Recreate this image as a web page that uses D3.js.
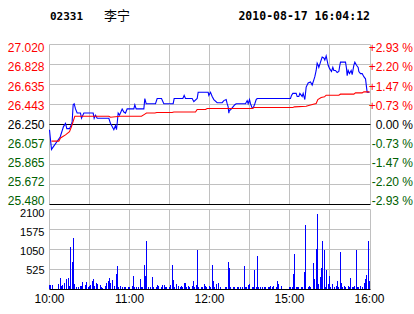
<!DOCTYPE html>
<html>
<head>
<meta charset="utf-8">
<script src="https://cdn.jsdelivr.net/npm/d3@7"></script>
<style>
  body { margin: 0; background: #fff; }
  svg { display: block; }
  text { font-family: "Liberation Sans", Arial, sans-serif; }
</style>
</head>
<body>
<svg id="chart" width="414" height="314"></svg>
<script>
// header
const stockCode = '02331';
const stockName = '李宁';
const stamp = '2010-08-17 16:04:12';

// axis labels
const prevClose = 26.25;
const priceTicks = ['27.020', '26.828', '26.635', '26.443', '26.250', '26.057', '25.865', '25.672', '25.480'];
const pctTicks = ['+2.93 %', '+2.20 %', '+1.47 %', '+0.73 %', '0.00 %', '-0.73 %', '-1.47 %', '-2.20 %', '-2.93 %'];
const volTicks = [2100, 1575, 1050, 525];
const timeLabels = ['10:00', '11:00', '12:00', '15:00', '16:00'];
const timeLabelMinutes = [0, 60, 120, 180, 240];

// price line (minute index from 10:00, price)
const priceTimes = [0, 1.5, 8, 10.5, 12, 13, 15, 16.5, 17, 17.75, 18.5, 19.5, 20.75, 23.25, 24, 25.75,
  32.75, 33.5, 34.5, 35.75, 44.5, 45.75, 47, 48.25, 49.5, 50.25, 50.75, 51.5, 52.5, 54.5, 55.75, 57,
  58.25, 63.25, 64, 65, 70.75, 71.5, 72.5, 79.5, 80.75, 84, 85.75, 92.75, 93.5, 100, 101, 102, 107,
  108.25, 110.75, 111.5, 119, 119.5, 120.75, 122, 123.25, 125.75, 129.5, 130.75, 132.5, 133.25, 134,
  134.5, 135, 135.75, 137, 139, 140, 147, 148.25, 149, 150, 150.75, 152, 152.75, 154, 155, 155.75,
  180.75, 181.5, 182.5, 185, 185.75, 187, 187.75, 189.5, 190.25, 191.5, 192.5, 194, 195.75, 197,
  198.25, 199, 200, 200.75, 201.5, 202, 203.25, 204.5, 205.75, 206.5, 207.5, 209, 210, 211.5, 212.5,
  213.25, 214.5, 215.75, 217, 217.75, 218.25, 222, 222.75, 223.25, 224, 225, 226.25, 227, 228.25,
  229, 230.25, 231.5, 232, 233.25, 234.5, 235.75, 237, 237.75, 238.25, 240];
const prices = [26.20, 26.01, 26.13, 26.23, 26.26, 26.21, 26.21, 26.25, 26.28, 26.44, 26.45, 26.40, 26.36, 26.36, 26.31, 26.36,
  26.36, 26.31, 26.34, 26.31, 26.31, 26.26, 26.23, 26.20, 26.24, 26.20, 26.26, 26.36, 26.34, 26.40, 26.37, 26.36,
  26.40, 26.40, 26.44, 26.40, 26.40, 26.50, 26.45, 26.45, 26.50, 26.50, 26.45, 26.45, 26.50, 26.50, 26.53, 26.50, 26.50,
  26.47, 26.50, 26.56, 26.56, 26.53, 26.56, 26.52, 26.49, 26.46, 26.46, 26.48, 26.49, 26.45, 26.42,
  26.36, 26.39, 26.39, 26.41, 26.44, 26.45, 26.45, 26.48, 26.45, 26.49, 26.45, 26.41, 26.41, 26.45, 26.49, 26.50,
  26.50, 26.53, 26.55, 26.55, 26.52, 26.52, 26.55, 26.52, 26.55, 26.49, 26.61, 26.65, 26.66, 26.63,
  26.68, 26.71, 26.77, 26.84, 26.82, 26.80, 26.85, 26.90, 26.89, 26.87, 26.91, 26.82, 26.79, 26.76, 26.80,
  26.77, 26.77, 26.75, 26.76, 26.82, 26.85, 26.85, 26.79, 26.72, 26.77, 26.74, 26.77, 26.73, 26.82,
  26.85, 26.82, 26.80, 26.76, 26.74, 26.74, 26.71, 26.69, 26.61, 26.56, 26.56];

// average price line
const avgTimes = [1.5, 7, 8.25, 12, 15, 16.5, 17.75, 19, 44.5, 45.75, 53, 69, 71.5, 72.75, 79, 80.5, 92,
  93.25, 109.5, 110.75, 117, 118.25, 152, 153.25, 182.5, 183.75, 192.5, 195, 200, 201.25, 203.75,
  206.25, 207.5, 217, 218.25, 228.25, 229.5, 234.5, 235.75, 240];
const avgPrices = [26.09, 26.09, 26.12, 26.15, 26.18, 26.23, 26.28, 26.33, 26.33, 26.32, 26.33, 26.33, 26.35, 26.36, 26.36, 26.365, 26.365,
  26.37, 26.37, 26.395, 26.395, 26.404, 26.404, 26.414, 26.414, 26.42, 26.426, 26.436, 26.452, 26.49, 26.51,
  26.516, 26.532, 26.532, 26.542, 26.542, 26.554, 26.554, 26.564, 26.564];

// volume per minute
const volTimes = [0, 1, 2, 7, 8, 9, 10, 11, 13, 14, 15, 16, 17, 18, 19, 20, 22, 23, 24, 25, 27, 28, 29, 30,
  31, 32, 33, 34, 35, 36, 38, 39, 40, 42, 43, 44, 45, 46, 47, 49, 50, 51, 52, 53, 55, 56, 57, 59, 60,
  62, 63, 64, 65, 67, 68, 69, 70, 71, 72, 73, 74, 76, 77, 78, 80, 81, 82, 83, 84, 85, 86, 87, 88, 90,
  91, 92, 93, 94, 95, 97, 98, 99, 100, 101, 102, 103, 104, 105, 107, 108, 109, 110, 111, 112, 114, 115,
  116, 117, 118, 120, 121, 122, 123, 124, 125, 127, 128, 129, 130, 132, 133, 134, 135, 136, 138, 139,
  141, 142, 143, 145, 146, 147, 148, 149, 150, 152, 153, 154, 155, 156, 157, 158, 160, 161, 162, 164,
  165, 166, 167, 168, 170, 171, 172, 174, 175, 176, 177, 179, 180, 181, 182, 183, 184, 185, 186, 187,
  189, 190, 191, 192, 194, 195, 196, 198, 199, 200, 201, 202, 203, 204, 205, 206, 207, 208, 209, 210,
  211, 212, 214, 215, 216, 217, 218, 219, 220, 221, 222, 224, 225, 226, 227, 228, 229, 230, 231, 232,
  233, 235, 236, 237, 238, 239, 240];
const volumes = [131, 114, 114, 149, 289, 88, 114, 166, 263, 289, 88, 1111, 717, 1339, 149, 61, 61, 79, 88, 201, 131, 193, 61, 88,
  131, 219, 280, 88, 175, 149, 131, 61, 44, 88, 175, 219, 289, 175, 245, 79, 394, 612, 61, 79, 61, 61, 61, 61, 61,
  88, 350, 61, 61, 70, 263, 61, 61, 639, 350, 1286, 61, 61, 324, 61, 61, 131, 88, 26, 61, 131, 114, 61, 70, 61,
  131, 639, 245, 61, 149, 88, 61, 88, 61, 175, 175, 61, 88, 61, 88, 219, 61, 114, 1024, 61, 61, 61,
  149, 88, 61, 88, 61, 639, 219, 61, 149, 175, 61, 26, 26, 61, 61, 717, 569, 61, 61, 61,
  61, 61, 61, 61, 612, 61, 61, 114, 149, 61, 61, 507, 61, 875, 61, 61, 61, 61, 61, 61,
  61, 88, 61, 88, 61, 219, 149, 79, 26, 26, 26, 26, 61, 61, 61, 394, 936, 61, 61, 61,
  61, 61, 455, 1689, 61, 79, 61, 700, 280, 1076, 1969, 149, 324, 569, 1286, 1050, 61, 525, 149, 350,
  61, 149, 61, 88, 236, 61, 980, 175, 61, 88, 61, 88, 61, 289, 61, 61, 88, 1050, 61, 61,
  88, 61, 175, 263, 376, 1286, 219];

const svg = d3.select('#chart');
const gridColor = '#c0c0c0';
const upColor = '#ff0000';
const downColor = '#006000';

const x = d3.scaleLinear().domain([0, 240]).range([49.5, 369.5]);
const yP = d3.scaleLinear().domain([25.48, 27.02]).range([204.5, 44.5]);
const yV = d3.scaleLinear().domain([0, 2100]).range([289.5, 209.5]);
const crisp = v => Math.round(v - 0.5) + 0.5;
const right = 370.5;

// header
svg.append('text').attr('x', 50).attr('y', 20)
  .style('font-family', '"DejaVu Sans Mono", monospace').style('font-weight', 'bold').style('font-size', '11px')
  .text(stockCode);
svg.append('text').attr('x', 104).attr('y', 20)
  .style('font-family', '"Noto Sans CJK SC", sans-serif').style('font-size', '13px')
  .text(stockName);
svg.append('text').attr('x', 370).attr('y', 20).attr('text-anchor', 'end')
  .style('font-family', '"DejaVu Sans Mono", monospace').style('font-weight', 'bold').style('font-size', '11.5px')
  .text(stamp);

// vertical grid, both panels
const gridMinutes = d3.range(30, 240, 30);
[[44.5, 204.5], [209.5, 289.5]].forEach(([top, bottom]) => {
  svg.append('g').selectAll('line').data(gridMinutes).join('line')
    .attr('x1', d => crisp(x(d))).attr('x2', d => crisp(x(d)))
    .attr('y1', top).attr('y2', bottom)
    .attr('stroke', gridColor);
  svg.append('line').attr('x1', 49.5).attr('x2', 49.5).attr('y1', top).attr('y2', bottom).attr('stroke', gridColor);
  svg.append('line').attr('x1', right).attr('x2', right).attr('y1', top).attr('y2', bottom).attr('stroke', gridColor);
});

// price grid + labels
const priceGrid = svg.append('g');
priceTicks.forEach((label, i) => {
  const ly = crisp(yP(+label));
  const dark = (i === 4 || i === priceTicks.length - 1);
  priceGrid.append('line')
    .attr('x1', 49.5).attr('x2', right).attr('y1', ly).attr('y2', ly)
    .attr('stroke', dark ? '#000' : gridColor);
  const color = i < 4 ? upColor : (i === 4 ? '#000' : downColor);
  const ty = 124.5 + (ly - 124.5) * 0.955;
  priceGrid.append('text').attr('x', 44.5).attr('y', ty).attr('dy', '0.35em')
    .attr('text-anchor', 'end').attr('fill', color).style('font-size', '12px')
    .text(label);
  priceGrid.append('text').attr('x', 413).attr('y', ty).attr('dy', '0.35em')
    .attr('text-anchor', 'end').attr('fill', color).style('font-size', '12px')
    .text(pctTicks[i]);
});

// volume grid + labels
const volGrid = svg.append('g');
volTicks.forEach(v => {
  const ly = crisp(yV(v));
  volGrid.append('line').attr('x1', 49.5).attr('x2', right).attr('y1', ly).attr('y2', ly).attr('stroke', gridColor);
  volGrid.append('text').attr('x', 44.5).attr('y', 289.5 - (289.5 - ly) * 0.95).attr('dy', '0.35em')
    .attr('text-anchor', 'end').style('font-size', '11px')
    .text(v);
});

// volume bars
svg.append('g').attr('shape-rendering', 'crispEdges')
  .selectAll('rect').data(volTimes).join('rect')
  .attr('x', d => Math.floor(x(d)))
  .attr('width', 1)
  .attr('y', (d, i) => Math.round(yV(volumes[i])))
  .attr('height', (d, i) => 289 - Math.round(yV(volumes[i])))
  .attr('fill', '#0000ff');

svg.append('line').attr('x1', 49.5).attr('x2', right).attr('y1', 289.5).attr('y2', 289.5).attr('stroke', '#000');

// time labels
svg.append('g').selectAll('text').data(timeLabels).join('text')
  .attr('x', (d, i) => x(timeLabelMinutes[i]))
  .attr('y', 303)
  .attr('text-anchor', 'middle')
  .style('font-size', '12px')
  .text(d => d);

// price and average lines
const line = d3.line().x(d => x(d[0])).y(d => yP(d[1]));
svg.append('path')
  .attr('d', line(priceTimes.map((t, i) => [t, prices[i]])))
  .attr('fill', 'none').attr('stroke', '#0000ff').attr('stroke-width', 1.1);
svg.append('path')
  .attr('d', line(avgTimes.map((t, i) => [t, avgPrices[i]])))
  .attr('fill', 'none').attr('stroke', '#ff0000').attr('stroke-width', 1.1);
</script>
</body>
</html>
